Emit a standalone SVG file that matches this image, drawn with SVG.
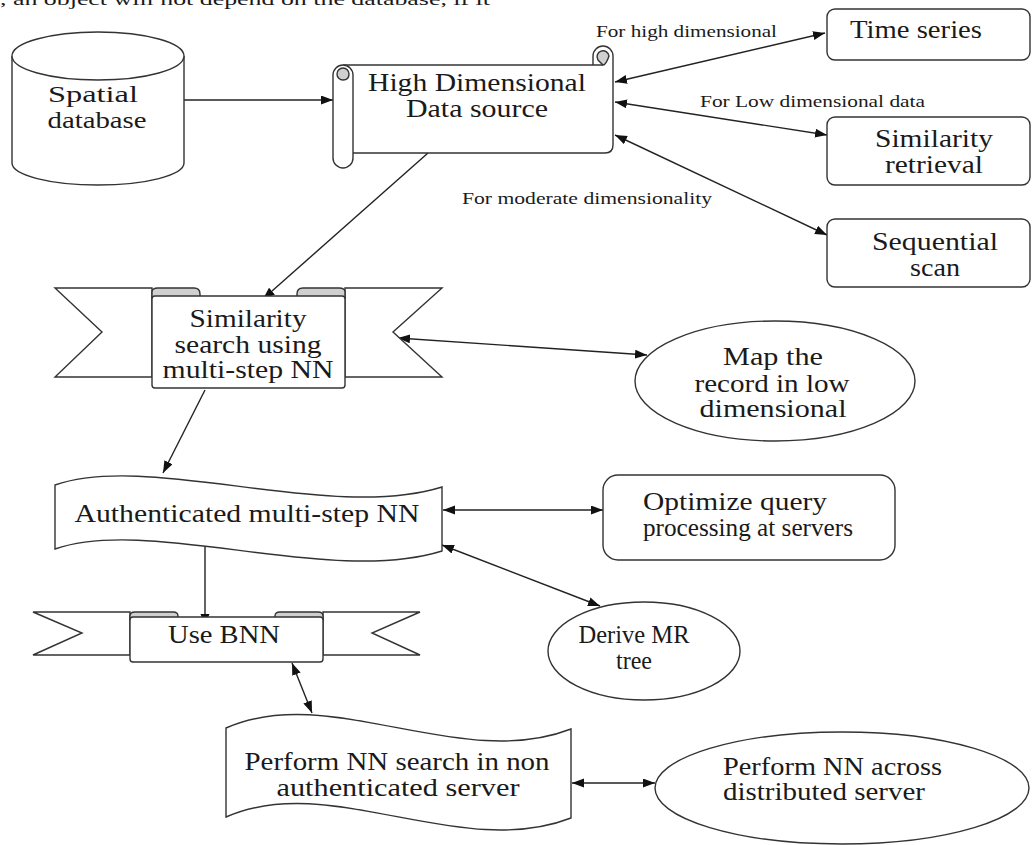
<svg xmlns="http://www.w3.org/2000/svg" width="1033" height="845" viewBox="0 0 1033 845">
<style>
text{font-family:'Liberation Serif',Tinos,'Times New Roman',serif}
.t{font-size:25px;fill:#1a1a1a;text-anchor:middle}
.s{font-size:16px;fill:#1a1a1a}
.sh{fill:#fff;stroke:#333;stroke-width:1.4}
.fold{fill:#d0d0d0;stroke:#333;stroke-width:1.4}
.c{fill:none;stroke:#222;stroke-width:1.4}
</style>
<defs>
<marker id="ah" markerUnits="userSpaceOnUse" markerWidth="13" markerHeight="10" refX="12" refY="4.5" orient="auto-start-reverse">
<path d="M0,0 L12,4.5 L0,9 z" fill="#111"/>
</marker>
</defs>
<rect width="1033" height="845" fill="#fff"/>
<g font-family="Liberation Serif, serif">
<text class="s" x="0" y="5" font-size="20" textLength="490" lengthAdjust="spacingAndGlyphs">, an object will not depend on the database, if it</text>
</g>

<g id="connectors">
<line class="c" x1="184" y1="100" x2="333" y2="100" marker-end="url(#ah)"/>
<line class="c" x1="615" y1="82" x2="825" y2="33" marker-start="url(#ah)" marker-end="url(#ah)"/>
<line class="c" x1="615" y1="102" x2="827" y2="135" marker-start="url(#ah)" marker-end="url(#ah)"/>
<line class="c" x1="615" y1="135" x2="827" y2="235" marker-start="url(#ah)" marker-end="url(#ah)"/>
<line class="c" x1="428" y1="153" x2="263" y2="299" marker-end="url(#ah)"/>
<line class="c" x1="398" y1="338" x2="647" y2="355" marker-start="url(#ah)" marker-end="url(#ah)"/>
<line class="c" x1="205" y1="390" x2="163" y2="473" marker-end="url(#ah)"/>
<line class="c" x1="443" y1="510" x2="603" y2="510" marker-start="url(#ah)" marker-end="url(#ah)"/>
<line class="c" x1="442" y1="545" x2="600" y2="606" marker-start="url(#ah)" marker-end="url(#ah)"/>
<line class="c" x1="205" y1="545" x2="205" y2="626" marker-end="url(#ah)"/>
<line class="c" x1="292" y1="663" x2="312" y2="713" marker-start="url(#ah)" marker-end="url(#ah)"/>
<line class="c" x1="572" y1="783" x2="655" y2="783" marker-start="url(#ah)" marker-end="url(#ah)"/>
</g>

<g id="spatial-database">
<path class="sh" d="M12,56 V163 A86,22 0 0 0 184,163 V56"/>
<ellipse class="sh" cx="98" cy="56" rx="86" ry="24"/>
<text class="t" x="93" y="102" font-size="24" style="font-size:24px" textLength="90" lengthAdjust="spacingAndGlyphs">Spatial</text>
<text class="t" x="97" y="128" style="font-size:24px" textLength="99" lengthAdjust="spacingAndGlyphs">database</text>
</g>

<g id="high-dimensional">
<path class="sh" d="M593,65 V56 A10,10 0 0 1 613,56 V145 Q613,153 605,153 H353"/>
<path class="sh" d="M343,65 H603"/>
<rect class="sh" x="333" y="65" width="20" height="103" rx="10"/>
<path class="fold" d="M343,80 A6,6 0 1 1 349,74 Q349,80 343,80 z"/>
<path class="fold" d="M598,60 A6,6 0 1 1 609,56 Q606,65 603,65 z"/>
<text class="t" x="477" y="91" textLength="218" lengthAdjust="spacingAndGlyphs">High Dimensional</text>
<text class="t" x="477" y="117" textLength="142" lengthAdjust="spacingAndGlyphs">Data source</text>
</g>

<g id="time-series">
<rect class="sh" x="827" y="9" width="203" height="51" rx="8"/>
<text class="t" x="916" y="38" textLength="132" lengthAdjust="spacingAndGlyphs">Time series</text>
</g>

<g id="similarity-retrieval">
<rect class="sh" x="827" y="117" width="203" height="68" rx="8"/>
<text class="t" x="934" y="147" textLength="118" lengthAdjust="spacingAndGlyphs">Similarity</text>
<text class="t" x="934" y="173" textLength="98" lengthAdjust="spacingAndGlyphs">retrieval</text>
</g>

<g id="sequential-scan">
<rect class="sh" x="827" y="219" width="203" height="68" rx="8"/>
<text class="t" x="935" y="250" textLength="126" lengthAdjust="spacingAndGlyphs">Sequential</text>
<text class="t" x="935" y="276" textLength="50" lengthAdjust="spacingAndGlyphs">scan</text>
</g>

<g id="labels">
<text class="s" x="596" y="37" textLength="181" lengthAdjust="spacingAndGlyphs">For high dimensional</text>
<text class="s" x="700" y="107" textLength="225" lengthAdjust="spacingAndGlyphs">For Low dimensional data</text>
<text class="s" x="462" y="204" textLength="250" lengthAdjust="spacingAndGlyphs">For moderate dimensionality</text>
</g>

<g id="similarity-search">
<path class="sh" d="M152,288 H55 L102,332 L55,377 H152 z"/>
<path class="sh" d="M345,288 H442 L393,332 L442,377 H345 z"/>
<path class="fold" d="M152,298 V292 Q152,288 158,288 H194 Q200,288 200,294 V298 z"/>
<path class="fold" d="M297,298 V294 Q297,288 303,288 H339 Q345,288 345,292 V298 z"/>
<rect class="sh" x="152" y="296" width="193" height="92" rx="3"/>
<text class="t" x="248" y="327" textLength="117" lengthAdjust="spacingAndGlyphs">Similarity</text>
<text class="t" x="248" y="353" textLength="147" lengthAdjust="spacingAndGlyphs">search using</text>
<text class="t" x="248" y="378" textLength="171" lengthAdjust="spacingAndGlyphs">multi-step NN</text>
</g>

<g id="map-record">
<ellipse class="sh" cx="775" cy="381" rx="140" ry="60"/>
<text class="t" x="773" y="365" textLength="100" lengthAdjust="spacingAndGlyphs">Map the</text>
<text class="t" x="772" y="392" textLength="155" lengthAdjust="spacingAndGlyphs">record in low</text>
<text class="t" x="773" y="417" textLength="147" lengthAdjust="spacingAndGlyphs">dimensional</text>
</g>

<g id="authenticated">
<path class="sh" d="M55,485 C150,452 330,522 442,487 V551 C330,586 150,516 55,549 z"/>
<text class="t" x="247" y="522" textLength="345" lengthAdjust="spacingAndGlyphs">Authenticated multi-step NN</text>
</g>

<g id="optimize">
<rect class="sh" x="603" y="475" width="292" height="85" rx="15"/>
<text class="t" x="735" y="510" textLength="184" lengthAdjust="spacingAndGlyphs">Optimize query</text>
<text class="t" x="748" y="536" textLength="210" lengthAdjust="spacingAndGlyphs">processing at servers</text>
</g>

<g id="derive-mr">
<ellipse class="sh" cx="644" cy="651" rx="96" ry="49"/>
<text class="t" x="634" y="643" textLength="111" lengthAdjust="spacingAndGlyphs">Derive MR</text>
<text class="t" x="634" y="669" textLength="36" lengthAdjust="spacingAndGlyphs">tree</text>
</g>

<g id="use-bnn">
<path class="sh" d="M130,612 H33 L82,633 L33,655 H130 z"/>
<path class="sh" d="M323,612 H420 L372,633 L420,655 H323 z"/>
<path class="fold" d="M130,620 V616 Q130,612 135,612 H173 Q178,612 178,616 V620 z"/>
<path class="fold" d="M275,620 V616 Q275,612 280,612 H318 Q323,612 323,616 V620 z"/>
<rect class="sh" x="130" y="617" width="193" height="45" rx="3"/>
<text class="t" x="224" y="643" textLength="112" lengthAdjust="spacingAndGlyphs">Use BNN</text>
</g>

<g id="perform-nn-search">
<path class="sh" d="M226,728 C330,682 460,772 571,729 V818 C460,861 330,771 226,817 z"/>
<text class="t" x="397" y="770" textLength="305" lengthAdjust="spacingAndGlyphs">Perform NN search in non</text>
<text class="t" x="398" y="796" textLength="243" lengthAdjust="spacingAndGlyphs">authenticated server</text>
</g>

<g id="perform-distributed">
<ellipse class="sh" cx="842" cy="788" rx="187" ry="56"/>
<text class="t" x="723" y="775" style="text-anchor:start" textLength="219" lengthAdjust="spacingAndGlyphs">Perform NN across</text>
<text class="t" x="723" y="800" style="text-anchor:start" textLength="202" lengthAdjust="spacingAndGlyphs">distributed server</text>
</g>
</svg>
